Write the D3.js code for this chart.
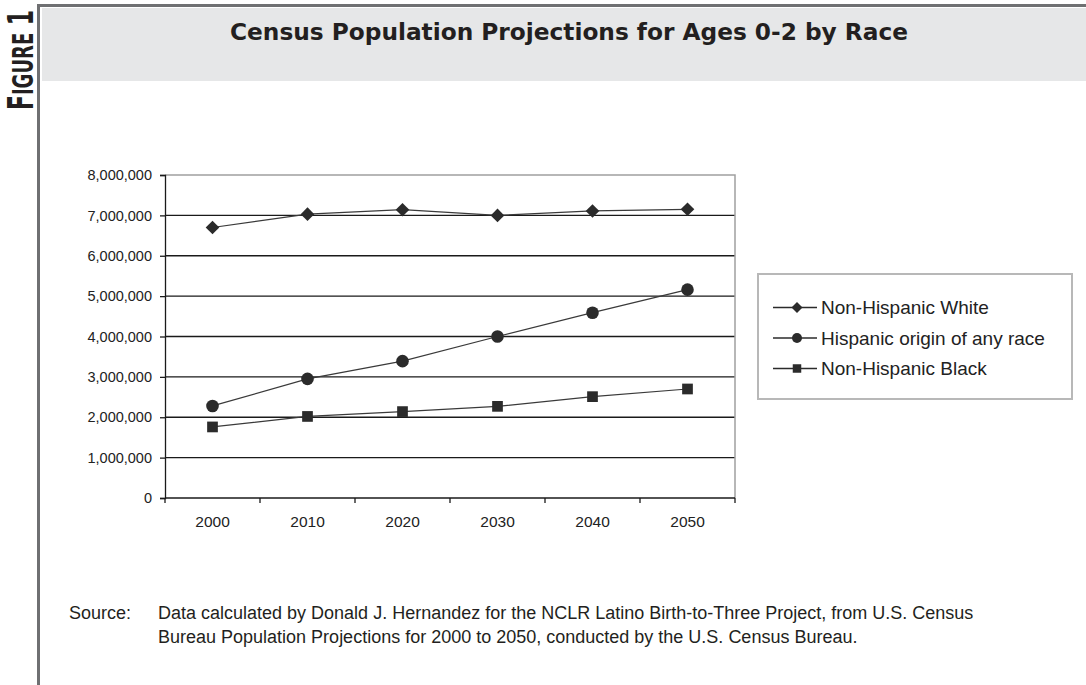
<!DOCTYPE html>
<html>
<head>
<meta charset="utf-8">
<script src="https://cdn.jsdelivr.net/npm/d3@7"></script>
<style>
  html, body { margin: 0; padding: 0; background: #fff; }
  svg { display: block; }
</style>
</head>
<body>
<script>
// census projections, ages 0-2
const years = ["2000", "2010", "2020", "2030", "2040", "2050"];
const whiteVals    = [6700000, 7030000, 7140000, 7000000, 7110000, 7150000];
const hispanicVals = [2280000, 2950000, 3390000, 4000000, 4590000, 5160000];
const blackVals    = [1760000, 2020000, 2140000, 2270000, 2510000, 2700000];
const seriesNames  = ["Non-Hispanic White", "Hispanic origin of any race", "Non-Hispanic Black"];
const seriesShapes = ["diamond", "circle", "square"];
const yTicks = [0, 1000000, 2000000, 3000000, 4000000, 5000000, 6000000, 7000000, 8000000];

const W = 1086, H = 685;
const svg = d3.select("body").append("svg").attr("width", W).attr("height", H);

// ── Frame + header ─────────────────────────────────────────────────────────
svg.append("rect").attr("x", 42).attr("y", 8).attr("width", W - 42).attr("height", 73)
    .attr("fill", "#e6e7e8");
svg.append("line").attr("x1", 37).attr("x2", W).attr("y1", 5.5).attr("y2", 5.5)
    .attr("stroke", "#6f7072").attr("stroke-width", 3);
svg.append("line").attr("x1", 38.5).attr("x2", 38.5).attr("y1", 4).attr("y2", H)
    .attr("stroke", "#6f7072").attr("stroke-width", 3);

const fig = svg.append("text")
    .attr("transform", "translate(33,110) rotate(-90)")
    .attr("font-family", "'DejaVu Sans Condensed', 'DejaVu Sans', sans-serif")
    .attr("font-stretch", "condensed")
    .attr("font-weight", "bold")
    .attr("fill", "#231f20")
    .attr("textLength", 100).attr("lengthAdjust", "spacingAndGlyphs");
fig.append("tspan").attr("font-size", 35).text("F");
fig.append("tspan").attr("font-size", 29).text("IGURE");
fig.append("tspan").attr("font-size", 35).text(" 1");

svg.append("text")
    .attr("x", 569).attr("y", 40)
    .attr("text-anchor", "middle")
    .attr("font-family", "'DejaVu Sans Condensed', 'DejaVu Sans', sans-serif")
    .attr("font-stretch", "condensed")
    .attr("font-weight", "bold")
    .attr("font-size", 23)
    .attr("fill", "#231f20")
    .attr("textLength", 678).attr("lengthAdjust", "spacingAndGlyphs")
    .text("Census Population Projections for Ages 0-2 by Race");

// ── Chart ──────────────────────────────────────────────────────────────────
const plot = { left: 165, right: 735, top: 175, bottom: 498 };
const x = d3.scaleBand().domain(years).range([plot.left, plot.right]).padding(0);
const y = d3.scaleLinear().domain([0, 8000000]).range([plot.bottom, plot.top]);
const cx = d => x(d) + x.bandwidth() / 2;

const chart = svg.append("g").attr("font-family", "'Liberation Sans', Arial, sans-serif");

// gridlines (black), top one is the grey plot border
chart.append("g").selectAll("line")
    .data(yTicks.filter(t => t > 0 && t < 8000000))
    .join("line")
    .attr("x1", plot.left).attr("x2", plot.right)
    .attr("y1", d => y(d)).attr("y2", d => y(d))
    .attr("stroke", "#1a1a1a").attr("stroke-width", 1.4);
chart.append("path")
    .attr("d", `M${plot.left},${y(8000000)}H${plot.right}V${plot.bottom}`)
    .attr("fill", "none").attr("stroke", "#a0a0a0").attr("stroke-width", 1.5);

// y axis
const yAxis = chart.append("g").attr("transform", `translate(${plot.left},0)`)
    .call(d3.axisLeft(y).tickValues(yTicks).tickSize(5).tickPadding(8).tickFormat(d3.format(",")));
yAxis.select(".domain").attr("stroke", "#1a1a1a").attr("stroke-width", 1.3);
yAxis.selectAll(".tick line").attr("stroke", "#1a1a1a").attr("stroke-width", 1.3);
yAxis.selectAll("text").attr("font-size", 14.5).attr("fill", "#222").attr("font-family", null);

// x axis: labels at centres, ticks at category boundaries
const xAxis = chart.append("g").attr("transform", `translate(0,${plot.bottom})`)
    .call(d3.axisBottom(x).tickSize(0).tickPadding(18));
xAxis.select(".domain").remove();
xAxis.selectAll("text").attr("font-size", 15.5).attr("fill", "#222").attr("font-family", null);
chart.append("line").attr("x1", plot.left).attr("x2", plot.right)
    .attr("y1", plot.bottom).attr("y2", plot.bottom)
    .attr("stroke", "#1a1a1a").attr("stroke-width", 1.3);
chart.append("g").selectAll("line")
    .data(years.map(d => x(d)).concat([plot.right]))
    .join("line")
    .attr("x1", d => d).attr("x2", d => d)
    .attr("y1", plot.bottom).attr("y2", plot.bottom + 5)
    .attr("stroke", "#1a1a1a").attr("stroke-width", 1.3);

// markers
function markerPath(shape, s) {
    if (shape === "diamond") return `M0,${-s}L${s},0L0,${s}L${-s},0Z`;
    if (shape === "square") return `M${-s * 0.85},${-s * 0.85}h${s * 1.7}v${s * 1.7}h${-s * 1.7}Z`;
    return `M${s},0A${s},${s},0,1,1,${-s},0A${s},${s},0,1,1,${s},0Z`;
}

const series = [whiteVals, hispanicVals, blackVals].map((vals, i) => ({
    name: seriesNames[i],
    shape: seriesShapes[i],
    points: years.map((yr, j) => ({ year: yr, value: vals[j] }))
}));

const line = d3.line().x(d => cx(d.year)).y(d => y(d.value));
series.forEach(s => {
    chart.append("path").datum(s.points)
        .attr("fill", "none").attr("stroke", "#3a3a3a").attr("stroke-width", 1.2)
        .attr("d", line);
    chart.append("g").selectAll("path")
        .data(s.points)
        .join("path")
        .attr("transform", d => `translate(${cx(d.year)},${y(d.value)})`)
        .attr("d", markerPath(s.shape, s.shape === "diamond" ? 6.8 : 6.3))
        .attr("fill", "#2b2b2b");
});

// legend
const lg = svg.append("g").attr("font-family", "'Liberation Sans', Arial, sans-serif");
lg.append("rect").attr("x", 758).attr("y", 274).attr("width", 314).attr("height", 125)
    .attr("fill", "#fff").attr("stroke", "#b8b8b8").attr("stroke-width", 2);
series.forEach((s, i) => {
    const row = lg.append("g").attr("transform", `translate(773,${307.5 + i * 30.5})`);
    row.append("line").attr("x1", 0).attr("x2", 44).attr("y1", 0).attr("y2", 0)
        .attr("stroke", "#2b2b2b").attr("stroke-width", 1.3);
    row.append("path").attr("transform", "translate(24,0)")
        .attr("d", markerPath(s.shape, s.shape === "diamond" ? 5.5 : 5))
        .attr("fill", "#2b2b2b");
    row.append("text").attr("x", 48).attr("y", 6.5)
        .attr("font-size", 19).attr("fill", "#222")
        .text(s.name);
});

// source note
const note = svg.append("g")
    .attr("font-family", "'Liberation Sans', Arial, sans-serif")
    .attr("font-size", 18).attr("fill", "#231f20");
note.append("text").attr("x", 69).attr("y", 619).text("Source:");
note.append("text").attr("x", 158).attr("y", 619)
    .text("Data calculated by Donald J. Hernandez for the NCLR Latino Birth-to-Three Project, from U.S. Census");
note.append("text").attr("x", 158).attr("y", 643)
    .text("Bureau Population Projections for 2000 to 2050, conducted by the U.S. Census Bureau.");
</script>
</body>
</html>
